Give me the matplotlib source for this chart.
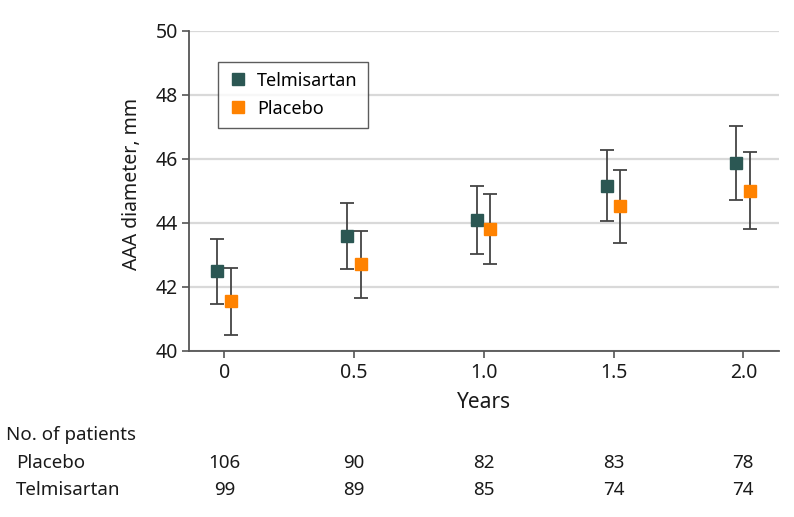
import matplotlib
matplotlib.use("Agg")
import matplotlib.pyplot as plt
from matplotlib.lines import Line2D
import numpy as np

years = [0, 0.5, 1.0, 1.5, 2.0]
year_labels = ["0", "0.5", "1.0", "1.5", "2.0"]

telmi_mean = [42.50, 43.58, 44.08, 45.16, 45.86]
telmi_low = [41.46, 42.54, 43.01, 44.04, 44.70]
telmi_high = [43.50, 44.63, 45.15, 46.27, 47.03]

placebo_mean = [41.55, 42.70, 43.80, 44.52, 45.00]
placebo_low = [40.50, 41.64, 42.71, 43.36, 43.79]
placebo_high = [42.59, 43.75, 44.89, 45.66, 46.20]

n_placebo = [106, 90, 82, 83, 78]
n_telmi = [99, 89, 85, 74, 74]

TEAL = "#2b5753"
ORANGE = "#ff8200"
ERR = "#444444"
TXT = "#1a1a1a"

plt.rcParams["font.family"] = ["Noto Sans", "DejaVu Sans"]

fig = plt.figure(figsize=(7.94, 5.17), dpi=100)
ax = fig.add_axes([0.2384, 0.3217, 0.7427, 0.6189])

x = np.array(years)
dx_t, dx_p = -0.027, 0.025

for xs, m, lo, hi, col in [
    (x + dx_t, telmi_mean, telmi_low, telmi_high, TEAL),
    (x + dx_p, placebo_mean, placebo_low, placebo_high, ORANGE),
]:
    m = np.array(m); lo = np.array(lo); hi = np.array(hi)
    ax.errorbar(xs, m, yerr=[m - lo, hi - m], fmt="none", ecolor=ERR,
                elinewidth=1.3, capsize=5, capthick=1.3, zorder=3)
    ax.plot(xs, m, linestyle="none", marker="s", markersize=9.3,
            markerfacecolor=col, markeredgecolor=col, zorder=4)

ax.set_xlim(-0.135, 2.1375)
ax.set_ylim(40, 50)
ax.set_yticks([40, 42, 44, 46, 48, 50])
ax.set_xticks(years)
ax.set_xticklabels(year_labels)
ax.yaxis.grid(True, color="#d9d9d9", linewidth=1.6)
ax.set_axisbelow(True)
for s in ["top", "right"]:
    ax.spines[s].set_visible(False)
for s in ["left", "bottom"]:
    ax.spines[s].set_color("#555555")
    ax.spines[s].set_linewidth(1.3)
ax.tick_params(axis="both", direction="out", length=5, width=1.2,
               color="#555555", labelsize=14, labelcolor=TXT)
ax.tick_params(axis="x", pad=4)
ax.tick_params(axis="y", pad=3)
ax.set_xlabel("Years", fontsize=15, color=TXT, labelpad=6)
ax.set_ylabel("AAA diameter, mm", fontsize=14, color=TXT)
ax.yaxis.set_label_coords(-0.08, 0.52)

handles = [
    Line2D([], [], linestyle="none", marker="s", markersize=9.3,
           markerfacecolor=TEAL, markeredgecolor=TEAL, label="Telmisartan"),
    Line2D([], [], linestyle="none", marker="s", markersize=9.3,
           markerfacecolor=ORANGE, markeredgecolor=ORANGE, label="Placebo"),
]
leg = ax.legend(handles=handles, loc="upper left", bbox_to_anchor=(0.048, 0.903),
                borderaxespad=0, frameon=True, fancybox=False, fontsize=13,
                handlelength=1.2, handletextpad=0.45, borderpad=0.55,
                labelspacing=0.55)
leg.get_frame().set_edgecolor("#333333")
leg.get_frame().set_linewidth(1.0)

# Number of patients table
trans = ax.get_xaxis_transform()
fig.text(6 / 794, 1 - 435 / 517, "No. of patients", fontsize=13.5, va="center",
         ha="left", color=TXT)
fig.text(16 / 794, 1 - 463 / 517, "Placebo", fontsize=13.5, va="center",
         ha="left", color=TXT)
fig.text(16 / 794, 1 - 490 / 517, "Telmisartan", fontsize=13.5, va="center",
         ha="left", color=TXT)
ax_bottom_px = 350.7
for xi, n1, n2 in zip(years, n_placebo, n_telmi):
    ax.text(xi, -(463 - ax_bottom_px) / 320, str(n1), transform=trans,
            ha="center", va="center", fontsize=13.5, color=TXT, clip_on=False)
    ax.text(xi, -(490 - ax_bottom_px) / 320, str(n2), transform=trans,
            ha="center", va="center", fontsize=13.5, color=TXT, clip_on=False)

fig.savefig("out.png", dpi=100)
